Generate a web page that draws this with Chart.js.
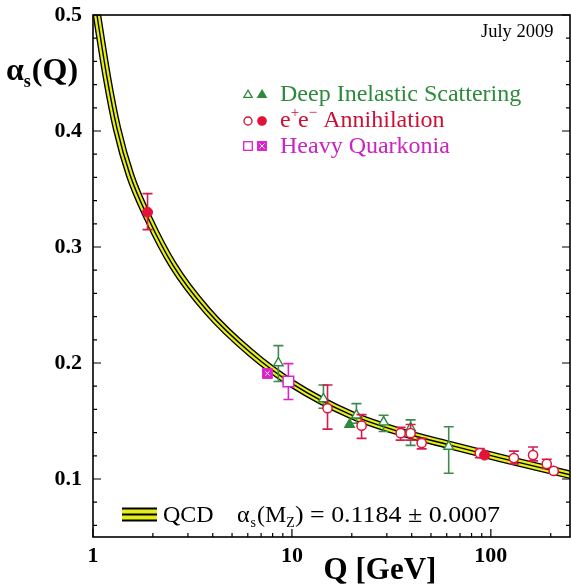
<!DOCTYPE html>
<html>
<head>
<meta charset="utf-8">
<title>alpha_s(Q)</title>
<script src="https://cdn.jsdelivr.net/npm/chart.js@4.4.1/dist/chart.umd.min.js"></script>
<style>
html, body { margin: 0; padding: 0; background: #fff; }
canvas { display: block; }
</style>
</head>
<body>
<canvas id="alphaS" width="571" height="586"></canvas>
<script>
// QCD running curve (Q in GeV)
var curveQ     = [1.0, 1.176, 1.321, 1.536, 1.893, 2.53, 3.753, 6.18, 10.06, 19.71, 35.2, 62.9, 112.3, 253];
var curveAlpha = [0.522, 0.446, 0.402, 0.362, 0.325, 0.284, 0.245, 0.209, 0.182, 0.1555, 0.1405, 0.129, 0.118, 0.1035];

// Deep inelastic scattering
var disQ     = [8.55, 14.4, 21.1, 28.9, 39.5, 61.4];
var disAlpha = [0.200, 0.169, 0.155, 0.149, 0.144, 0.128];
var disUp    = [0.015, 0.012, 0.010, 0.006, 0.007, 0.017];
var disDn    = [0.016, 0.008, 0.007, 0.008, 0.015, 0.023];
var disFullQ = [19.5];
var disFullAlpha = [0.147];

// e+e- annihilation
var eeQ     = [15.1, 22.4, 35.2, 39.5, 44.9, 88, 130.6, 163, 191, 207];
var eeAlpha = [0.161, 0.146, 0.1395, 0.1395, 0.131, 0.1223, 0.118, 0.1206, 0.113, 0.107];
var eeUp    = [0.020, 0.0095, 0.005, 0.0075, 0.004, 0.004, 0.006, 0.007, 0.004, 0.002];
var eeDn    = [0.018, 0.011, 0.006, 0.006, 0.005, 0.004, 0.005, 0.005, 0.004, 0.002];
var eeFullQ = [1.88, 93];
var eeFullAlpha = [0.330, 0.1206];
var eeFullUp = [0.016, 0];
var eeFullDn = [0.015, 0];

// heavy quarkonia
var hqQ = [9.6];
var hqAlpha = [0.184];
var hqUp = [0.0155];
var hqDn = [0.0155];
var hqFullQ = [7.53];
var hqFullAlpha = [0.191];

// axes
var xTicks = [1, 10, 100];
var xMinor = [2, 3, 4, 5, 6, 7, 8, 9, 20, 30, 40, 50, 60, 70, 80, 90, 200];
var yTicks = [0.1, 0.2, 0.3, 0.4, 0.5];
var yMinor = [0.06, 0.08, 0.12, 0.14, 0.16, 0.18, 0.22, 0.24, 0.26, 0.28, 0.32, 0.34, 0.36, 0.38, 0.42, 0.44, 0.46, 0.48];

var GREEN = '#2d8a3c', GREEN_BAR = '#3f8c50';
var RED = '#e3123a', RED_BAR = '#d41c50', RED_TXT = '#cc1035';
var MAG = '#dd22cc', MAG_TXT = '#cc22c0';
var YELLOW = '#e4ee1a';
var SERIF = "'Liberation Serif', 'Times New Roman', serif";

function pts(xs, ys) {
    return xs.map(function (x, i) { return { x: x, y: ys[i] }; });
}

var curve = pts(curveQ, curveAlpha);

var errorBars = {
    id: 'errorBars',
    beforeDatasetDraw: function (chart, args) {
        var ds = chart.data.datasets[args.index];
        if (!ds.errUp) return;
        var ctx = chart.ctx, xs = chart.scales.x, ys = chart.scales.y;
        ctx.save();
        ctx.strokeStyle = ds.errColor;
        ctx.lineWidth = 1.6;
        ds.data.forEach(function (p, i) {
            if (!ds.errUp[i] && !ds.errDn[i]) return;
            var px = xs.getPixelForValue(p.x);
            var top = ys.getPixelForValue(p.y + ds.errUp[i]);
            var bot = ys.getPixelForValue(p.y - ds.errDn[i]);
            ctx.beginPath();
            ctx.moveTo(px, top); ctx.lineTo(px, bot);
            ctx.moveTo(px - 5, top); ctx.lineTo(px + 5, top);
            ctx.moveTo(px - 5, bot); ctx.lineTo(px + 5, bot);
            ctx.stroke();
        });
        ctx.restore();
    }
};

function tri(ctx, x, y, r, fill, stroke) {
    ctx.beginPath();
    ctx.moveTo(x, y - r);
    ctx.lineTo(x + r * 0.87, y + r * 0.5);
    ctx.lineTo(x - r * 0.87, y + r * 0.5);
    ctx.closePath();
    ctx.fillStyle = fill; ctx.fill();
    ctx.strokeStyle = stroke; ctx.lineWidth = 1.3; ctx.stroke();
}
function circ(ctx, x, y, r, fill, stroke) {
    ctx.beginPath();
    ctx.arc(x, y, r, 0, Math.PI * 2);
    ctx.fillStyle = fill; ctx.fill();
    ctx.strokeStyle = stroke; ctx.lineWidth = 1.3; ctx.stroke();
}
function sq(ctx, x, y, h, fill, stroke) {
    ctx.fillStyle = fill; ctx.fillRect(x - h, y - h, 2 * h, 2 * h);
    ctx.strokeStyle = stroke; ctx.lineWidth = 1.3; ctx.strokeRect(x - h, y - h, 2 * h, 2 * h);
}

var decor = {
    id: 'decor',
    afterDraw: function (chart) {
        var ctx = chart.ctx, a = chart.chartArea, xs = chart.scales.x, ys = chart.scales.y;
        ctx.save();
        // frame
        ctx.strokeStyle = '#000';
        ctx.lineWidth = 1.6;
        ctx.strokeRect(a.left, a.top, a.right - a.left, a.bottom - a.top);
        // inward ticks
        ctx.lineWidth = 1.2;
        ctx.beginPath();
        yTicks.concat(yMinor).forEach(function (v) {
            var len = yTicks.indexOf(v) >= 0 ? 8 : 4;
            var py = ys.getPixelForValue(v);
            ctx.moveTo(a.left, py); ctx.lineTo(a.left + len, py);
            ctx.moveTo(a.right, py); ctx.lineTo(a.right - len, py);
        });
        xTicks.concat(xMinor).forEach(function (v) {
            var len = xTicks.indexOf(v) >= 0 ? 8 : 4;
            var px = xs.getPixelForValue(v);
            ctx.moveTo(px, a.bottom); ctx.lineTo(px, a.bottom - len);
        });
        ctx.stroke();

        ctx.fillStyle = '#000';
        ctx.textBaseline = 'alphabetic';
        // y title  alpha_s(Q)
        ctx.font = 'bold 32px ' + SERIF;
        ctx.fillText('\u03b1', 6, 80);
        var w = ctx.measureText('\u03b1').width;
        ctx.font = 'bold 18px ' + SERIF;
        ctx.fillText('s', 6 + w, 87);
        var w2 = ctx.measureText('s').width;
        ctx.font = 'bold 32px ' + SERIF;
        ctx.fillText('(Q)', 7 + w + w2, 80);

        // x title
        ctx.font = 'bold 31px ' + SERIF;
        ctx.textAlign = 'center';
        ctx.fillText('Q [GeV]', 380, 579);
        ctx.textAlign = 'left';

        // date
        ctx.font = '18.5px ' + SERIF;
        ctx.fillText('July 2009', 481, 37);

        // data legend
        tri(ctx, 248, 95, 4.8, '#fff', GREEN);
        tri(ctx, 262, 95, 4.8, GREEN, GREEN);
        circ(ctx, 248, 121, 4, '#fff', RED_TXT);
        circ(ctx, 262, 121, 4.2, RED, RED);
        sq(ctx, 248, 146, 4.3, '#fff', MAG);
        sq(ctx, 262, 146, 4.3, MAG, MAG);
        ctx.strokeStyle = '#fff'; ctx.lineWidth = 1;
        ctx.beginPath();
        ctx.moveTo(259.5, 143.5); ctx.lineTo(264.5, 148.5);
        ctx.moveTo(264.5, 143.5); ctx.lineTo(259.5, 148.5);
        ctx.stroke();

        ctx.font = '24px ' + SERIF;
        ctx.fillStyle = GREEN;
        ctx.fillText('Deep Inelastic Scattering', 280, 101);
        ctx.fillStyle = RED_TXT;
        var x = 280;
        ctx.fillText('e', x, 127); x += ctx.measureText('e').width;
        ctx.font = '15px ' + SERIF;
        ctx.fillText('+', x, 117); x += ctx.measureText('+').width - 1;
        ctx.font = '24px ' + SERIF;
        ctx.fillText('e', x, 127); x += ctx.measureText('e').width;
        ctx.font = '15px ' + SERIF;
        ctx.fillText('\u2212', x, 117); x += ctx.measureText('\u2212').width;
        ctx.font = '24px ' + SERIF;
        ctx.fillText(' Annihilation', x, 127);
        ctx.fillStyle = MAG_TXT;
        ctx.fillText('Heavy Quarkonia', 280, 153);

        // QCD band legend
        ctx.fillStyle = YELLOW;
        ctx.fillRect(122, 508, 35, 13);
        ctx.strokeStyle = '#000'; ctx.lineWidth = 1.8;
        ctx.beginPath();
        [508.5, 514.5, 520.5].forEach(function (yy) { ctx.moveTo(122, yy); ctx.lineTo(157, yy); });
        ctx.stroke();

        ctx.fillStyle = '#000';
        ctx.font = '24px ' + SERIF;
        ctx.fillText('QCD', 163, 522);
        x = 237;
        ctx.fillText('\u03b1', x, 522); x += ctx.measureText('\u03b1').width + 1;
        ctx.font = '14px ' + SERIF;
        ctx.fillText('s', x, 527); x += ctx.measureText('s').width + 1;
        ctx.font = '24px ' + SERIF;
        ctx.fillText('(M', x, 522); x += ctx.measureText('(M').width;
        ctx.font = '14px ' + SERIF;
        ctx.fillText('Z', x, 527); x += ctx.measureText('Z').width;
        ctx.font = '24px ' + SERIF;
        var tail = ') = 0.1184 \u00b1 0.0007';
        var tw = ctx.measureText(tail).width;
        var sx = (500 - x) / tw;
        ctx.translate(x, 522);
        ctx.scale(sx, 1);
        ctx.fillText(tail, 0, 0);
        ctx.restore();
    }
};

function noPad(s) {
    s.paddingTop = 0; s.paddingBottom = 0; s.paddingLeft = 0; s.paddingRight = 0;
}

var ctx = document.getElementById('alphaS');
var myChart = new Chart(ctx, {
    type: 'scatter',
    data: {
        datasets: [
            // QCD band: black edges, yellow fill, black centre line
            { data: curve, showLine: true, pointRadius: 0, borderColor: '#000', borderWidth: 8.5,
              cubicInterpolationMode: 'monotone', order: 10 },
            { data: curve, showLine: true, pointRadius: 0, borderColor: YELLOW, borderWidth: 5.8,
              cubicInterpolationMode: 'monotone', order: 9 },
            { data: curve, showLine: true, pointRadius: 0, borderColor: '#000', borderWidth: 1.4,
              cubicInterpolationMode: 'monotone', order: 8 },
            { data: pts(disQ, disAlpha), pointStyle: 'triangle', pointRadius: 5.5,
              backgroundColor: '#fff', borderColor: GREEN, borderWidth: 1.4,
              errUp: disUp, errDn: disDn, errColor: GREEN_BAR, order: 5 },
            { data: pts(disFullQ, disFullAlpha), pointStyle: 'triangle', pointRadius: 5.5,
              backgroundColor: GREEN, borderColor: GREEN, borderWidth: 1.4, order: 4 },
            { data: pts(eeQ, eeAlpha), pointStyle: 'circle', pointRadius: 4.6,
              backgroundColor: '#fff', borderColor: RED, borderWidth: 1.5,
              errUp: eeUp, errDn: eeDn, errColor: RED_BAR, order: 3 },
            { data: pts(eeFullQ, eeFullAlpha), pointStyle: 'circle', pointRadius: 5,
              backgroundColor: RED, borderColor: RED, borderWidth: 1,
              errUp: eeFullUp, errDn: eeFullDn, errColor: RED_BAR, order: 2 },
            { data: pts(hqQ, hqAlpha), pointStyle: 'rect', pointRadius: 7.5,
              backgroundColor: '#fff', borderColor: MAG, borderWidth: 1.5,
              errUp: hqUp, errDn: hqDn, errColor: MAG, order: 1 },
            { data: pts(hqFullQ, hqFullAlpha), pointStyle: 'rect', pointRadius: 7,
              backgroundColor: MAG, borderColor: MAG, borderWidth: 1, order: 0 },
            { data: pts(hqFullQ, hqFullAlpha), pointStyle: 'crossRot', pointRadius: 3,
              borderColor: '#fff', borderWidth: 1, order: -1 }
        ]
    },
    options: {
        responsive: false,
        animation: false,
        events: [],
        layout: { autoPadding: false, padding: { top: 15, right: 1, left: 0, bottom: 0 } },
        plugins: { legend: { display: false }, tooltip: { enabled: false } },
        scales: {
            x: {
                type: 'logarithmic', min: 1, max: 250,
                grid: { display: false, drawTicks: false }, border: { display: false },
                afterBuildTicks: function (s) { s.ticks = xTicks.map(function (v) { return { value: v }; }); },
                afterFit: function (s) { s.height = 49; noPad(s); },
                ticks: {
                    autoSkip: false, maxRotation: 0, padding: 6, color: '#000',
                    font: { family: SERIF, size: 22, weight: 'bold' },
                    callback: function (v) { return String(v); }
                }
            },
            y: {
                min: 0.05, max: 0.5,
                grid: { display: false, drawTicks: false }, border: { display: false },
                afterBuildTicks: function (s) { s.ticks = yTicks.map(function (v) { return { value: v }; }); },
                afterFit: function (s) { s.width = 93; noPad(s); },
                ticks: {
                    autoSkip: false, padding: 11, color: '#000',
                    font: { family: SERIF, size: 22, weight: 'bold' },
                    callback: function (v) { return v.toFixed(1); }
                }
            }
        }
    },
    plugins: [errorBars, decor]
});
</script>
</body>
</html>
